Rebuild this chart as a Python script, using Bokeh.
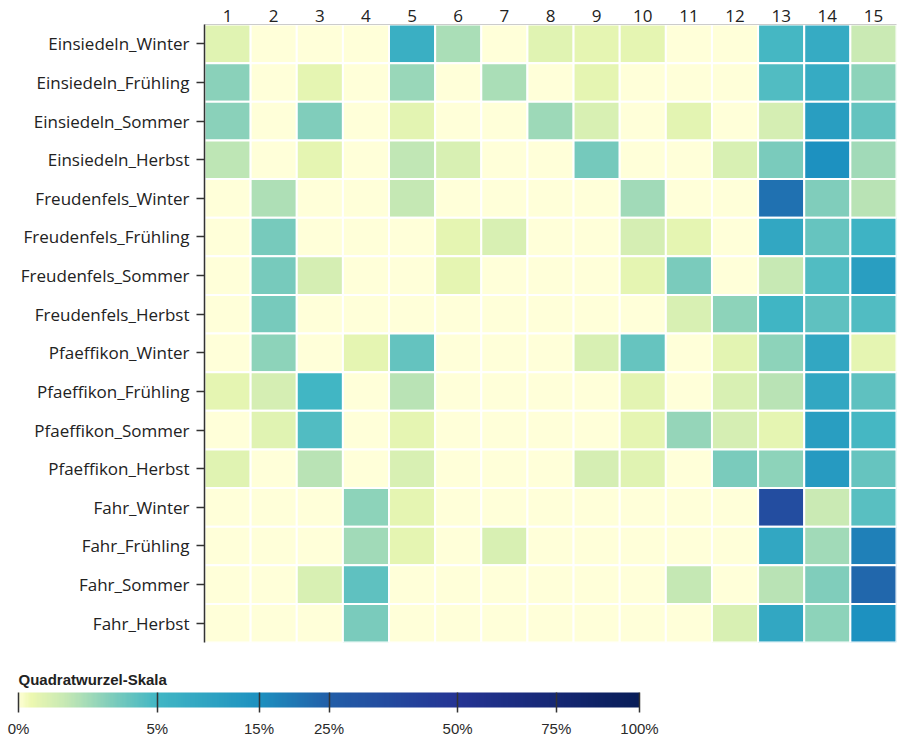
import math
from bokeh.plotting import figure
from bokeh.models import (FactorRange, ColumnDataSource, LinearColorMapper, ColorBar,
                          FixedTicker, CustomJSTickFormatter)
from bokeh.embed import file_html
from bokeh.resources import INLINE

# ---------------- data (percent) ----------------
columns = [str(i) for i in range(1, 16)]
seasons = ["Winter", "Frühling", "Sommer", "Herbst"]
locations = ["Einsiedeln", "Freudenfels", "Pfaeffikon", "Fahr"]

einsiedeln = [
    [0.15, 0, 0, 0, 6.5, 1.1, 0, 0.15, 0.1, 0.1, 0, 0, 4.8, 7.5, 0.5],
    [1.9, 0, 0.1, 0, 1.5, 0, 1.1, 0, 0.1, 0, 0, 0, 4.2, 7.5, 1.8],
    [1.9, 0, 2.2, 0, 0.12, 0, 0, 1.4, 0.25, 0, 0.12, 0, 0.3, 11, 3.3],
    [0.7, 0, 0.1, 0, 0.65, 0.25, 0, 0, 2.6, 0, 0, 0.25, 2.4, 15, 1.3],
]
freudenfels = [
    [0, 1.0, 0, 0, 0.58, 0, 0, 0, 0, 1.3, 0, 0, 21, 2.2, 0.8],
    [0, 2.5, 0, 0, 0, 0.1, 0.25, 0, 0, 0.3, 0.1, 0, 8.5, 3.2, 5.7],
    [0, 2.5, 0.3, 0, 0, 0.1, 0, 0, 0, 0.1, 2.4, 0, 0.55, 4.2, 11],
    [0, 2.5, 0, 0, 0, 0, 0, 0, 0, 0, 0.25, 1.8, 5.2, 3.5, 4.2],
]
pfaeffikon = [
    [0, 1.8, 0, 0.1, 3.3, 0, 0, 0, 0.25, 3.2, 0, 0.12, 1.8, 8.5, 0.1],
    [0.1, 0.3, 5, 0, 0.8, 0, 0, 0, 0, 0.12, 0, 0.25, 0.8, 8.5, 3.5],
    [0, 0.15, 4.2, 0, 0.1, 0, 0, 0, 0, 0.1, 1.6, 0.3, 0.1, 11, 4.8],
    [0.15, 0, 0.8, 0, 0.25, 0, 0, 0, 0.3, 0.15, 0, 2.4, 1.8, 12, 3.2],
]
fahr = [
    [0, 0, 0, 1.8, 0.1, 0, 0, 0, 0, 0, 0, 0, 34, 0.5, 3.8],
    [0, 0, 0, 1.3, 0.1, 0, 0.25, 0, 0, 0, 0, 0, 8.5, 1.3, 18],
    [0, 0, 0.25, 3.5, 0, 0, 0, 0, 0, 0, 0.58, 0, 0.8, 2.2, 23],
    [0, 0, 0, 2.4, 0, 0, 0, 0, 0, 0, 0, 0.25, 8.5, 1.8, 15],
]

legend_ticks = [0, 5, 15, 25, 50, 75, 100]
legend_title = "Quadratwurzel-Skala"

# ---------------- colour scale (sqrt, YlGnBu) ----------------
stop_u = [0, 0.02, 0.0745, 0.149, math.sqrt(0.05), math.sqrt(0.15), 0.5, math.sqrt(0.5), 1.0]
stop_c = ["#ffffd9", "#edf8b1", "#c7e9b4", "#7fcdbb", "#41b6c4", "#1d91c0", "#225ea8", "#253494", "#081d58"]


def hex2rgb(h):
    return [int(h[i:i + 2], 16) for i in (1, 3, 5)]


def color_u(u):
    u = max(0.0, min(1.0, u))
    for i in range(len(stop_u) - 1):
        if stop_u[i] <= u <= stop_u[i + 1]:
            f = (u - stop_u[i]) / (stop_u[i + 1] - stop_u[i])
            a, b = hex2rgb(stop_c[i]), hex2rgb(stop_c[i + 1])
            return "#%02x%02x%02x" % tuple(round(a[k] + f * (b[k] - a[k])) for k in range(3))
    return stop_c[-1]


def color_pct(p):
    return color_u(math.sqrt(p / 100.0))


# ---------------- heatmap ----------------
row_names = []
xs, ys, fills = [], [], []
for loc, block in zip(locations, [einsiedeln, freudenfels, pfaeffikon, fahr]):
    for season, vals in zip(seasons, block):
        name = f"{loc}_{season}"
        row_names.append(name)
        for c, v in zip(columns, vals):
            xs.append(c)
            ys.append(name)
            fills.append(color_pct(v))

src = ColumnDataSource(dict(x=xs, y=ys, fill=fills))

FONT = "Open Sans"
p = figure(width=902, height=736,
           x_range=FactorRange(*columns), y_range=FactorRange(*reversed(row_names)),
           x_axis_location="above", output_backend="svg", toolbar_location=None,
           min_border_left=204, min_border_top=24, min_border_right=6, min_border_bottom=94)
p.x_range.range_padding = 0
p.y_range.range_padding = 0
p.rect(x="x", y="y", width=1, height=1, source=src, fill_color="fill",
       line_color="white", line_width=2)
p.grid.visible = False
p.outline_line_color = None
p.background_fill_color = "white"

xa = p.xaxis[0]
xa.axis_line_color = "#cccccc"
xa.major_tick_out = 0
xa.major_tick_in = 0
xa.minor_tick_out = 0
xa.major_label_standoff = 3
xa.major_label_text_font = FONT
xa.major_label_text_font_size = "17px"
xa.major_label_text_color = "#222222"

ya = p.yaxis[0]
ya.axis_line_color = "#333333"
ya.axis_line_width = 1.5
ya.major_tick_out = 8
ya.major_tick_in = 0
ya.major_tick_line_color = "#333333"
ya.major_tick_line_width = 1.5
ya.major_label_standoff = 7
ya.major_label_text_font = FONT
ya.major_label_text_font_size = "17px"
ya.major_label_text_color = "#222222"

# ---------------- legend (colour bar on a sqrt axis) ----------------
mapper = LinearColorMapper(palette=[color_u((i + 0.5) / 256) for i in range(256)], low=0, high=1)
tick_u = [math.sqrt(t / 100.0) for t in legend_ticks]
cb = ColorBar(color_mapper=mapper, orientation="horizontal", width=621, height=15,
              location=(-186, -97), padding=0,
              ticker=FixedTicker(ticks=tick_u),
              formatter=CustomJSTickFormatter(code="return Math.round(tick*tick*100) + '%';"),
              title=legend_title, title_standoff=10,
              title_text_font="Liberation Sans",
              title_text_font_style="bold", title_text_font_size="15px",
              title_text_color="#222222",
              major_label_text_font="Liberation Sans", major_label_text_font_size="15px",
              major_label_text_color="#2a2a2a", label_standoff=7,
              major_tick_in=15, major_tick_out=5,
              major_tick_line_color="#333333", major_tick_line_width=1.5,
              minor_tick_line_color=None, bar_line_color=None,
              background_fill_color=None, border_line_color=None)
p.add_layout(cb, "center")

open("out.html", "w").write(file_html(p, INLINE))
